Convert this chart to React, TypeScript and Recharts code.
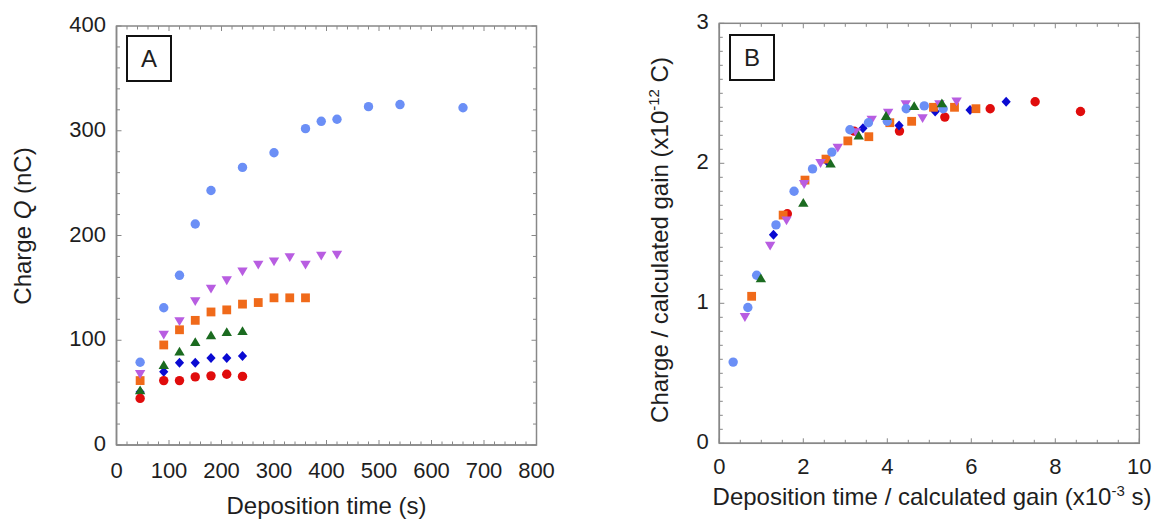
import React from "react";
import { ScatterChart, Scatter, XAxis, YAxis, Label } from "recharts";

const FONT = "'Liberation Sans', Arial, sans-serif";
const AXIS = "#888888";
const INK = "#1e1e1e";

// colours of the six runs
const LIGHTBLUE = "#6b8ff6";
const PURPLE = "#b85de1";
const ORANGE = "#f06a1a";
const GREEN = "#1b6b20";
const NAVY = "#0a0ad2";
const RED = "#e00c0c";

// panel A : deposition time (s) vs charge Q (nC)
const aLightBlueT = [45, 90, 120, 150, 180, 240, 300, 360, 390, 420, 480, 540, 660];
const aLightBlueQ = [79, 131, 162, 211, 243, 265, 279, 302, 309, 311, 323, 325, 322];
const aPurpleT = [45, 90, 120, 150, 180, 210, 240, 270, 300, 330, 360, 390, 420];
const aPurpleQ = [67.5, 105, 118, 137, 149, 157, 165.5, 172, 175, 179, 172, 180.5, 181.5];
const aOrangeT = [45, 90, 120, 150, 180, 210, 240, 270, 300, 330, 360];
const aOrangeQ = [61.5, 95.5, 110, 119, 127, 129, 134.5, 136, 140.5, 140.5, 140.5];
const aShortT = [45, 90, 120, 150, 180, 210, 240];
const aGreenQ = [52.5, 76.5, 89.5, 98.5, 105, 108, 109];
const aNavyQ = [50.5, 70, 78.5, 78.5, 83, 83, 85];
const aRedQ = [44.5, 61.5, 61.5, 65, 66, 67.5, 65.5];

// panel B : time / gain (x10^-3 s) vs charge / gain (x10^-12 C)
const bRedX = [1.62, 3.21, 4.29, 5.37, 6.45, 7.52, 8.6];
const bRedY = [1.64, 2.23, 2.23, 2.33, 2.39, 2.44, 2.37];
const bNavyX = [1.29, 2.58, 3.42, 4.28, 5.14, 5.97, 6.83];
const bNavyY = [1.49, 2.01, 2.25, 2.27, 2.37, 2.38, 2.44];
const bGreenX = [0.99, 2.0, 2.65, 3.32, 3.97, 4.64, 5.3];
const bGreenY = [1.18, 1.72, 2.0, 2.2, 2.34, 2.41, 2.43];
const bOrangeX = [0.77, 1.52, 2.04, 2.54, 3.06, 3.56, 4.06, 4.58, 5.1, 5.6, 6.11];
const bOrangeY = [1.05, 1.63, 1.88, 2.03, 2.16, 2.19, 2.29, 2.3, 2.4, 2.4, 2.39];
const bPurpleX = [0.61, 1.21, 1.6, 2.02, 2.41, 2.82, 3.25, 3.63, 4.02, 4.44, 4.84, 5.24, 5.65];
const bPurpleY = [0.9, 1.41, 1.59, 1.85, 2.0, 2.11, 2.22, 2.31, 2.36, 2.42, 2.32, 2.42, 2.44];
const bLightBlueX = [0.33, 0.68, 0.89, 1.35, 1.78, 2.22, 2.68, 3.11, 3.55, 4.0, 4.45, 4.88, 5.33];
const bLightBlueY = [0.58, 0.97, 1.2, 1.56, 1.8, 1.96, 2.08, 2.24, 2.29, 2.3, 2.39, 2.41, 2.39];

// tick labels
const aXLabels = [0, 100, 200, 300, 400, 500, 600, 700, 800];
const aYLabels = [0, 100, 200, 300, 400];
const bXLabels = [0, 2, 4, 6, 8, 10];
const bYLabels = [0, 1, 2, 3];

// minor tick positions (every 20 in A, 0.5 / 0.1 in B)
const steps = (max: number, step: number) =>
    Array.from({ length: Math.round(max / step) + 1 }, (_, i) => Math.round(i * step * 1000) / 1000);
const aXTicks = steps(800, 20);
const aYTicks = steps(400, 20);
const bXTicks = steps(10, 0.5);
const bYTicks = steps(3, 0.1);

const zip = (xs: number[], ys: number[]) => xs.map((x, i) => ({ x, y: ys[i] }));

const seriesA = [
    { name: "navy", kind: "diamond", color: NAVY, data: zip(aShortT, aNavyQ) },
    { name: "green", kind: "up", color: GREEN, data: zip(aShortT, aGreenQ) },
    { name: "red", kind: "circle", color: RED, data: zip(aShortT, aRedQ) },
    { name: "orange", kind: "square", color: ORANGE, data: zip(aOrangeT, aOrangeQ) },
    { name: "purple", kind: "down", color: PURPLE, data: zip(aPurpleT, aPurpleQ) },
    { name: "lightblue", kind: "circle", color: LIGHTBLUE, data: zip(aLightBlueT, aLightBlueQ) },
];

const seriesB = [
    { name: "red", kind: "circle", color: RED, data: zip(bRedX, bRedY) },
    { name: "navy", kind: "diamond", color: NAVY, data: zip(bNavyX, bNavyY) },
    { name: "orange", kind: "square", color: ORANGE, data: zip(bOrangeX, bOrangeY) },
    { name: "purple", kind: "down", color: PURPLE, data: zip(bPurpleX, bPurpleY) },
    { name: "lightblue", kind: "circle", color: LIGHTBLUE, data: zip(bLightBlueX, bLightBlueY) },
    { name: "green", kind: "up", color: GREEN, data: zip(bGreenX, bGreenY) },
];

// plot boxes on the page (left, right, top, bottom) and their domains
const boxA = { l: 116.5, r: 536.5, t: 26, b: 445, xMax: 800, yMax: 400 };
const boxB = { l: 719.3, r: 1139.3, t: 23.3, b: 443.3, xMax: 10, yMax: 3 };

const Marker = ({ cx, cy, kind, fill }: any) => {
    if (cx == null || cy == null) return null;
    switch (kind) {
        case "square":
            return <rect x={cx - 4.4} y={cy - 4.4} width={8.8} height={8.8} fill={fill} />;
        case "up":
            return <path d={`M${cx - 5.2},${cy + 4.2} L${cx + 5.2},${cy + 4.2} L${cx},${cy - 4.6} Z`} fill={fill} />;
        case "down":
            return <path d={`M${cx - 5.2},${cy - 4.2} L${cx + 5.2},${cy - 4.2} L${cx},${cy + 4.6} Z`} fill={fill} />;
        case "diamond":
            return <path d={`M${cx},${cy - 5} L${cx + 4.6},${cy} L${cx},${cy + 5} L${cx - 4.6},${cy} Z`} fill={fill} />;
        default:
            return <circle cx={cx} cy={cy} r={4.7} fill={fill} />;
    }
};

const lineStyle = { stroke: AXIS, strokeWidth: 1.5 };

// tick labels only on the major values (tick marks are drawn by Frame)
const BottomTick = ({ x, y, payload, labels, drop }: any) =>
    labels.includes(payload.value) ? (
        <text x={x} y={y + drop} textAnchor="middle" fontSize={22} fontFamily={FONT} fill={INK}>
            {payload.value}
        </text>
    ) : (
        <g />
    );

const LeftTick = ({ x, y, payload, labels }: any) =>
    labels.includes(payload.value) ? (
        <text x={x - 10.5} y={y + 6} textAnchor="end" fontSize={22} fontFamily={FONT} fill={INK}>
            {payload.value}
        </text>
    ) : (
        <g />
    );

// box round the plot with small inward ticks on all four sides
const Frame = ({ box, xTicks, yTicks, xLabels, yLabels }: any) => {
    const px = (v: number) => box.l + ((box.r - box.l) * v) / box.xMax;
    const py = (v: number) => box.b - ((box.b - box.t) * v) / box.yMax;
    const len = (v: number, majors: number[]) => (majors.includes(v) ? 5 : 3.5);
    return (
        <g>
            <rect x={box.l} y={box.t} width={box.r - box.l} height={box.b - box.t} fill="none" stroke={AXIS} strokeWidth={1.5} />
            {xTicks.map((v: number) => (
                <g key={`x${v}`}>
                    <line x1={px(v)} x2={px(v)} y1={box.b} y2={box.b - len(v, xLabels)} stroke={AXIS} />
                    <line x1={px(v)} x2={px(v)} y1={box.t} y2={box.t + len(v, xLabels)} stroke={AXIS} />
                </g>
            ))}
            {yTicks.map((v: number) => (
                <g key={`y${v}`}>
                    <line x1={box.l} x2={box.l + len(v, yLabels)} y1={py(v)} y2={py(v)} stroke={AXIS} />
                    <line x1={box.r} x2={box.r - len(v, yLabels)} y1={py(v)} y2={py(v)} stroke={AXIS} />
                </g>
            ))}
        </g>
    );
};

const LetterBox = ({ letter, left, top }: any) => (
    <div
        style={{
            position: "absolute",
            left,
            top,
            width: 46,
            height: 47,
            boxSizing: "border-box",
            border: "2.5px solid #111",
            background: "#fff",
            fontFamily: FONT,
            fontSize: 24,
            color: INK,
            display: "flex",
            alignItems: "center",
            justifyContent: "center",
        }}
    >
        {letter}
    </div>
);

const PanelA = () => (
    <ScatterChart width={560} height={519} margin={{ top: 26, right: 23.5, bottom: 0, left: 0 }}>
        <XAxis
            type="number"
            dataKey="x"
            domain={[0, 800]}
            allowDataOverflow
            ticks={aXTicks}
            interval={0}
            tickSize={0}
            tickMargin={0}
            tickLine={false}
            tick={(p: any) => <BottomTick {...p} labels={aXLabels} drop={33} />}
            axisLine={lineStyle}
            height={74}
        >
            <Label
                content={() => (
                    <text x={326.5} y={514} textAnchor="middle" fontSize={24} fontFamily={FONT} fill={INK}>
                        Deposition time (s)
                    </text>
                )}
            />
        </XAxis>
        <YAxis
            type="number"
            dataKey="y"
            domain={[0, 400]}
            allowDataOverflow
            ticks={aYTicks}
            interval={0}
            tickSize={0}
            tickMargin={0}
            tickLine={false}
            tick={(p: any) => <LeftTick {...p} labels={aYLabels} />}
            axisLine={lineStyle}
            width={116.5}
        >
            <Label
                content={() => (
                    <text
                        x={31}
                        y={226}
                        transform="rotate(-90 31 226)"
                        textAnchor="middle"
                        fontSize={24}
                        fontFamily={FONT}
                        fill={INK}
                    >
                        Charge <tspan fontStyle="italic">Q</tspan> (nC)
                    </text>
                )}
            />
        </YAxis>
        {seriesA.map((s) => (
            <Scatter
                key={s.name}
                data={s.data}
                isAnimationActive={false}
                shape={(p: any) => <Marker cx={p.cx} cy={p.cy} kind={s.kind} fill={s.color} />}
            />
        ))}
    </ScatterChart>
);

const PanelB = () => (
    <ScatterChart width={572} height={519} margin={{ top: 23.3, right: 12.7, bottom: 0, left: 0 }}>
        <XAxis
            type="number"
            dataKey="x"
            domain={[0, 10]}
            allowDataOverflow
            ticks={bXTicks}
            interval={0}
            tickSize={0}
            tickMargin={0}
            tickLine={false}
            tick={(p: any) => <BottomTick {...p} labels={bXLabels} drop={31} />}
            axisLine={lineStyle}
            height={75.7}
        >
            <Label
                content={() => (
                    <text x={352} y={505} textAnchor="middle" fontSize={24} fontFamily={FONT} fill={INK}>
                        Deposition time / calculated gain (x10
                        <tspan dy={-9} fontSize={15}>
                            -3
                        </tspan>
                        <tspan dy={9}> s)</tspan>
                    </text>
                )}
            />
        </XAxis>
        <YAxis
            type="number"
            dataKey="y"
            domain={[0, 3]}
            allowDataOverflow
            ticks={bYTicks}
            interval={0}
            tickSize={0}
            tickMargin={0}
            tickLine={false}
            tick={(p: any) => <LeftTick {...p} labels={bYLabels} />}
            axisLine={lineStyle}
            width={139.3}
        >
            <Label
                content={() => (
                    <text
                        x={88}
                        y={240}
                        transform="rotate(-90 88 240)"
                        textAnchor="middle"
                        fontSize={24}
                        fontFamily={FONT}
                        fill={INK}
                    >
                        Charge / calculated gain (x10
                        <tspan dy={-9} fontSize={15}>
                            -12
                        </tspan>
                        <tspan dy={9}> C)</tspan>
                    </text>
                )}
            />
        </YAxis>
        {seriesB.map((s) => (
            <Scatter
                key={s.name}
                data={s.data}
                isAnimationActive={false}
                shape={(p: any) => <Marker cx={p.cx} cy={p.cy} kind={s.kind} fill={s.color} />}
            />
        ))}
    </ScatterChart>
);

export default function App() {
    return (
        <div
            style={{
                position: "absolute",
                left: 0,
                top: 0,
                width: 1152,
                height: 519,
                background: "#fff",
                overflow: "hidden",
            }}
        >
            <div style={{ position: "absolute", left: 0, top: 0 }}>
                <PanelA />
            </div>
            <div style={{ position: "absolute", left: 580, top: 0 }}>
                <PanelB />
            </div>
            <svg
                width={1152}
                height={519}
                style={{ position: "absolute", left: 0, top: 0, pointerEvents: "none" }}
            >
                <Frame box={boxA} xTicks={aXTicks} yTicks={aYTicks} xLabels={aXLabels} yLabels={aYLabels} />
                <Frame box={boxB} xTicks={bXTicks} yTicks={bYTicks} xLabels={bXLabels} yLabels={bYLabels} />
            </svg>
            <LetterBox letter="A" left={126} top={35} />
            <LetterBox letter="B" left={729} top={34} />
        </div>
    );
}
